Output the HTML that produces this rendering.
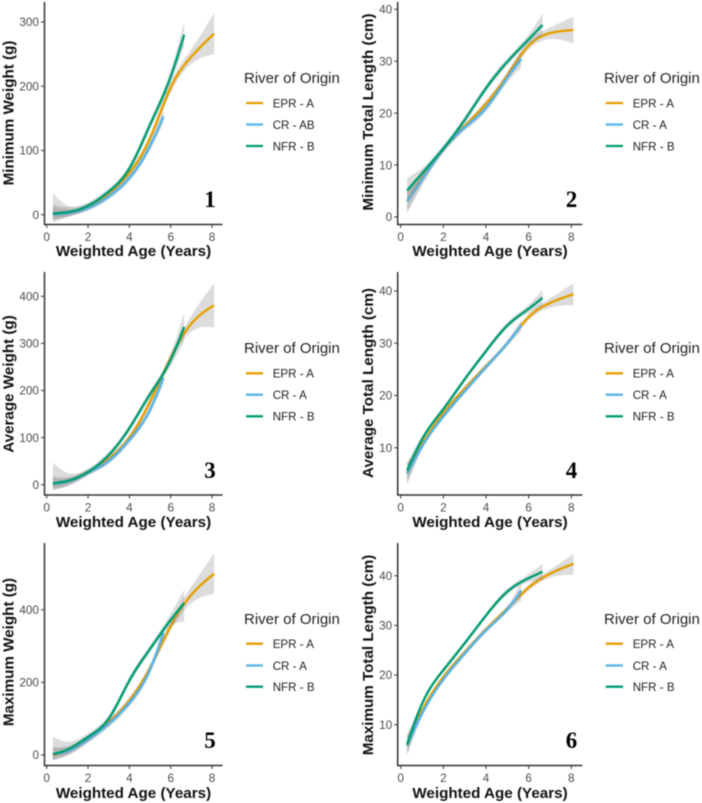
<!DOCTYPE html>
<html lang="en">
<head>
<meta charset="utf-8">
<title>Growth curves by river of origin</title>
<style>
html,body{margin:0;padding:0;background:#fff;}
svg{display:block;filter:blur(0.42px);font-family:"Liberation Sans",sans-serif;}
.axis-title{font-weight:bold;font-size:15.2px;fill:#111;text-anchor:middle;}
.tick-label{font-size:11.8px;fill:#4d4d4d;}
.legend-title{font-size:15px;fill:#222;}
.legend-label{font-size:11.6px;fill:#222;}
.panel-number{font-family:"Liberation Serif",serif;font-weight:bold;font-size:23px;fill:#000;text-anchor:middle;}
.key{stroke-width:2.3;fill:none;}
</style>
</head>
<body>
<svg id="chart" width="702" height="803" viewBox="0 0 702 803" xmlns="http://www.w3.org/2000/svg">
<rect width="702" height="803" fill="#fff"/>

<g id="panel-1"></g>
<g id="panel-2"></g>
<g id="panel-3"></g>
<g id="panel-4"></g>
<g id="panel-5"></g>
<g id="panel-6"></g>

<!-- axis titles -->
<text class="axis-title" x="133.5" y="256">Weighted Age (Years)</text>
<text class="axis-title" x="490" y="256">Weighted Age (Years)</text>
<text class="axis-title" x="133.5" y="527">Weighted Age (Years)</text>
<text class="axis-title" x="490" y="527">Weighted Age (Years)</text>
<text class="axis-title" x="133.5" y="798">Weighted Age (Years)</text>
<text class="axis-title" x="490" y="798">Weighted Age (Years)</text>

<text class="axis-title" transform="translate(13.5,113) rotate(-90)">Minimum Weight (g)</text>
<text class="axis-title" transform="translate(373,112) rotate(-90)">Minimum Total Length (cm)</text>
<text class="axis-title" transform="translate(13.5,384) rotate(-90)">Average Weight (g)</text>
<text class="axis-title" transform="translate(373,383) rotate(-90)">Average Total Length (cm)</text>
<text class="axis-title" transform="translate(13.5,652) rotate(-90)">Maximum Weight (g)</text>
<text class="axis-title" transform="translate(373,655) rotate(-90)">Maximum Total Length (cm)</text>

<!-- panel numbers -->
<text class="panel-number" x="210" y="207">1</text>
<text class="panel-number" x="571.5" y="207">2</text>
<text class="panel-number" x="210" y="478">3</text>
<text class="panel-number" x="571.5" y="478">4</text>
<text class="panel-number" x="210" y="748">5</text>
<text class="panel-number" x="571.5" y="748">6</text>

<!-- legends -->
<g>
<text class="legend-title" x="244" y="83">River of Origin</text>
<line class="key" x1="246" x2="263" y1="103" y2="103" stroke="#E69F00"/>
<text class="legend-label" x="272.7" y="107.3">EPR - A</text>
<line class="key" x1="246" x2="263" y1="124.5" y2="124.5" stroke="#56B4E9"/>
<text class="legend-label" x="272.7" y="128.8">CR - AB</text>
<line class="key" x1="246" x2="263" y1="146" y2="146" stroke="#009E73"/>
<text class="legend-label" x="272.7" y="150.3">NFR - B</text>
</g>
<g>
<text class="legend-title" x="604" y="83">River of Origin</text>
<line class="key" x1="605.7" x2="623" y1="103" y2="103" stroke="#E69F00"/>
<text class="legend-label" x="632.7" y="107.3">EPR - A</text>
<line class="key" x1="605.7" x2="623" y1="124.5" y2="124.5" stroke="#56B4E9"/>
<text class="legend-label" x="632.7" y="128.8">CR - A</text>
<line class="key" x1="605.7" x2="623" y1="146" y2="146" stroke="#009E73"/>
<text class="legend-label" x="632.7" y="150.3">NFR - B</text>
</g>
<g>
<text class="legend-title" x="244" y="353">River of Origin</text>
<line class="key" x1="246" x2="263" y1="373.3" y2="373.3" stroke="#E69F00"/>
<text class="legend-label" x="272.7" y="377.6">EPR - A</text>
<line class="key" x1="246" x2="263" y1="394.7" y2="394.7" stroke="#56B4E9"/>
<text class="legend-label" x="272.7" y="399">CR - A</text>
<line class="key" x1="246" x2="263" y1="416.3" y2="416.3" stroke="#009E73"/>
<text class="legend-label" x="272.7" y="420.6">NFR - B</text>
</g>
<g>
<text class="legend-title" x="604" y="353">River of Origin</text>
<line class="key" x1="605.7" x2="623" y1="373.3" y2="373.3" stroke="#E69F00"/>
<text class="legend-label" x="632.7" y="377.6">EPR - A</text>
<line class="key" x1="605.7" x2="623" y1="394.7" y2="394.7" stroke="#56B4E9"/>
<text class="legend-label" x="632.7" y="399">CR - A</text>
<line class="key" x1="605.7" x2="623" y1="416.3" y2="416.3" stroke="#009E73"/>
<text class="legend-label" x="632.7" y="420.6">NFR - B</text>
</g>
<g>
<text class="legend-title" x="244" y="624">River of Origin</text>
<line class="key" x1="246" x2="263" y1="643.7" y2="643.7" stroke="#E69F00"/>
<text class="legend-label" x="272.7" y="648">EPR - A</text>
<line class="key" x1="246" x2="263" y1="665.5" y2="665.5" stroke="#56B4E9"/>
<text class="legend-label" x="272.7" y="669.8">CR - A</text>
<line class="key" x1="246" x2="263" y1="686.7" y2="686.7" stroke="#009E73"/>
<text class="legend-label" x="272.7" y="691">NFR - B</text>
</g>
<g>
<text class="legend-title" x="604" y="624">River of Origin</text>
<line class="key" x1="605.7" x2="623" y1="643.7" y2="643.7" stroke="#E69F00"/>
<text class="legend-label" x="632.7" y="648">EPR - A</text>
<line class="key" x1="605.7" x2="623" y1="665.5" y2="665.5" stroke="#56B4E9"/>
<text class="legend-label" x="632.7" y="669.8">CR - A</text>
<line class="key" x1="605.7" x2="623" y1="686.7" y2="686.7" stroke="#009E73"/>
<text class="legend-label" x="632.7" y="691">NFR - B</text>
</g>
</svg>

<script>
// Shared categories: weighted age in years
const eprAge = [0.3, 1, 2, 3, 4, 5, 6, 7, 8.1];
const crAge = [0.3, 1, 2, 3, 4, 5, 5.65];
const nfrAge = [0.3, 1, 2, 3, 4, 5, 6, 6.65];
const xTickLabels = [0, 2, 4, 6, 8];

// Panel 1: minimum weight (g)
const p1Ticks = [0, 100, 200, 300];
const p1Epr = [2, 3, 13, 33, 65, 119, 198, 246, 282];
const p1EprLo = [-8, -3, 8, 28, 60, 113, 190, 235, 250];
const p1EprHi = [15, 12, 18, 38, 70, 125, 206, 258, 314];
const p1Cr = [0, 2, 10, 28, 57, 107, 153];
const p1CrLo = [-8, -3, 6, 24, 52, 100, 143];
const p1CrHi = [12, 8, 14, 32, 62, 114, 163];
const p1Nfr = [2, 4, 14, 36, 72, 140, 215, 280];
const p1NfrLo = [-12, -4, 9, 31, 66, 133, 205, 262];
const p1NfrHi = [33, 14, 19, 41, 78, 147, 225, 300];

// Panel 2: minimum total length (cm)
const p2Ticks = [0, 10, 20, 30, 40];
const p2Epr = [3, 7.5, 13, 17.5, 21.8, 27.3, 33, 35.4, 36];
const p2EprLo = [1, 6.4, 12.4, 16.9, 21.1, 26.6, 32.2, 34.3, 33.4];
const p2EprHi = [5, 8.6, 13.6, 18.1, 22.5, 28, 33.8, 36.5, 38.6];
const p2Cr = [3, 7.2, 13, 17.2, 21, 26.8, 30.4];
const p2CrLo = [0.8, 6, 12.4, 16.6, 20.3, 25.9, 28.8];
const p2CrHi = [5.2, 8.4, 13.6, 17.8, 21.7, 27.7, 32];
const p2Nfr = [5.1, 8.4, 13.2, 18.7, 24.8, 29.9, 34.2, 37];
const p2NfrLo = [2.7, 7.4, 12.6, 18, 24.1, 29.2, 33.2, 34.8];
const p2NfrHi = [7.5, 9.4, 13.8, 19.4, 25.5, 30.6, 35.2, 39.2];

// Panel 3: average weight (g)
const p3Ticks = [0, 100, 200, 300, 400];
const p3Epr = [2, 7, 27, 55, 100, 176, 270, 342, 381];
const p3EprLo = [-12, -2, 21, 49, 93, 168, 262, 325, 334];
const p3EprHi = [18, 16, 33, 61, 107, 184, 278, 359, 428];
const p3Cr = [2, 6, 25, 50, 95, 159, 227];
const p3CrLo = [-10, -4, 19, 44, 88, 151, 214];
const p3CrHi = [14, 14, 31, 56, 102, 167, 240];
const p3Nfr = [3, 8, 27, 63, 120, 192, 265, 335];
const p3NfrLo = [-8, 0, 21, 56, 113, 184, 252, 305];
const p3NfrHi = [47, 25, 34, 70, 127, 200, 278, 366];

// Panel 4: average total length (cm)
const p4Ticks = [10, 20, 30, 40];
const p4Epr = [5.1, 10.6, 16.6, 21.3, 25.6, 30, 35, 37.7, 39.4];
const p4EprLo = [3.2, 10, 16.1, 20.8, 25.1, 29.5, 34.4, 36.8, 37.3];
const p4EprHi = [7, 11.2, 17.1, 21.8, 26.1, 30.5, 35.6, 38.6, 41.5];
const p4Cr = [5, 10.2, 16, 20.8, 25.4, 30, 33.4];
const p4CrLo = [3, 9.6, 15.5, 20.3, 24.9, 29.5, 32.3];
const p4CrHi = [7, 10.8, 16.5, 21.3, 25.9, 30.5, 34.5];
const p4Nfr = [5.6, 11.6, 17.4, 23.1, 28.5, 33.4, 36.6, 38.7];
const p4NfrLo = [4, 11, 16.9, 22.6, 28, 32.8, 35.8, 37];
const p4NfrHi = [7.2, 12.2, 17.9, 23.6, 29, 34, 37.4, 40.2];

// Panel 5: maximum weight (g)
const p5Ticks = [0, 200, 400];
const p5Epr = [0, 12, 45, 90, 150, 240, 355, 441, 499];
const p5EprLo = [-14, 0, 36, 81, 140, 230, 342, 418, 444];
const p5EprHi = [20, 24, 54, 99, 160, 250, 368, 464, 554];
const p5Cr = [3, 10, 42, 85, 143, 235, 336];
const p5CrLo = [-14, -2, 33, 76, 133, 224, 318];
const p5CrHi = [22, 22, 51, 94, 153, 246, 354];
const p5Nfr = [2, 15, 50, 100, 205, 292, 372, 418];
const p5NfrLo = [-12, 2, 40, 90, 195, 282, 355, 368];
const p5NfrHi = [51, 36, 60, 110, 215, 302, 389, 455];

// Panel 6: maximum total length (cm)
const p6Ticks = [10, 20, 30, 40];
const p6Epr = [6, 12.8, 19.6, 24.6, 29.2, 33.4, 37.6, 40.4, 42.4];
const p6EprLo = [4, 12.2, 19.1, 24.1, 28.7, 32.9, 37, 39.6, 40.2];
const p6EprHi = [8, 13.4, 20.1, 25.1, 29.7, 33.9, 38.2, 41.2, 44.4];
const p6Cr = [5.8, 12.2, 19.1, 24.3, 29, 33.2, 37];
const p6CrLo = [4, 11.6, 18.6, 23.8, 28.5, 32.6, 35];
const p6CrHi = [7.6, 12.8, 19.6, 24.8, 29.5, 33.8, 38.9];
const p6Nfr = [6, 14.2, 21, 26.4, 32, 36.8, 39.5, 40.8];
const p6NfrLo = [4.4, 13.6, 20.5, 25.9, 31.5, 36.2, 38.7, 39.2];
const p6NfrHi = [7.8, 14.8, 21.5, 26.9, 32.5, 37.4, 40.3, 42.4];

const NS = 'http://www.w3.org/2000/svg';
const COLORS = { epr: '#E69F00', cr: '#56B4E9', nfr: '#009E73' };

// Each panel's axis calibration: two data anchors mapped to pixel rows.
const panels = [
  { id: 'panel-1', ticks: p1Ticks, left: 44.5, right: 222.5, top: 2, bottom: 224.5, x0: 46.7, xUnit: 20.67, yA: 0, pxA: 214.7, yB: 300, pxB: 22,
    epr: [p1Epr, p1EprLo, p1EprHi], cr: [p1Cr, p1CrLo, p1CrHi], nfr: [p1Nfr, p1NfrLo, p1NfrHi] },
  { id: 'panel-2', ticks: p2Ticks, left: 397.7, right: 582.3, top: 2, bottom: 224.5, x0: 400.7, xUnit: 21.33, yA: 0, pxA: 217, yB: 40, pxB: 9.3,
    epr: [p2Epr, p2EprLo, p2EprHi], cr: [p2Cr, p2CrLo, p2CrHi], nfr: [p2Nfr, p2NfrLo, p2NfrHi] },
  { id: 'panel-3', ticks: p3Ticks, left: 44.5, right: 222.5, top: 272, bottom: 495, x0: 46.7, xUnit: 20.67, yA: 0, pxA: 484.7, yB: 400, pxB: 296.3,
    epr: [p3Epr, p3EprLo, p3EprHi], cr: [p3Cr, p3CrLo, p3CrHi], nfr: [p3Nfr, p3NfrLo, p3NfrHi] },
  { id: 'panel-4', ticks: p4Ticks, left: 397.7, right: 582.3, top: 272, bottom: 495, x0: 400.7, xUnit: 21.33, yA: 10, pxA: 447.7, yB: 40, pxB: 291,
    epr: [p4Epr, p4EprLo, p4EprHi], cr: [p4Cr, p4CrLo, p4CrHi], nfr: [p4Nfr, p4NfrLo, p4NfrHi] },
  { id: 'panel-5', ticks: p5Ticks, left: 44.5, right: 222.5, top: 543, bottom: 765.5, x0: 46.7, xUnit: 20.67, yA: 0, pxA: 755, yB: 400, pxB: 609.7,
    epr: [p5Epr, p5EprLo, p5EprHi], cr: [p5Cr, p5CrLo, p5CrHi], nfr: [p5Nfr, p5NfrLo, p5NfrHi] },
  { id: 'panel-6', ticks: p6Ticks, left: 397.7, right: 582.3, top: 543, bottom: 765.5, x0: 400.7, xUnit: 21.33, yA: 10, pxA: 724.7, yB: 40, pxB: 575.7,
    epr: [p6Epr, p6EprLo, p6EprHi], cr: [p6Cr, p6CrLo, p6CrHi], nfr: [p6Nfr, p6NfrLo, p6NfrHi] }
];

function make(tag, props, parent) {
  const el = document.createElementNS(NS, tag);
  for (const k in props) el.setAttribute(k, props[k]);
  parent.appendChild(el);
  return el;
}

// Natural cubic spline through the read values, sampled along x.
function smoothSamples(xs, ys) {
  const n = xs.length;
  const h = [], a = new Array(n).fill(0), l = new Array(n).fill(1), mu = new Array(n).fill(0), z = new Array(n).fill(0), c = new Array(n).fill(0);
  for (let i = 0; i < n - 1; i++) h[i] = xs[i + 1] - xs[i];
  for (let i = 1; i < n - 1; i++) {
    a[i] = 3 * (ys[i + 1] - ys[i]) / h[i] - 3 * (ys[i] - ys[i - 1]) / h[i - 1];
    l[i] = 2 * (xs[i + 1] - xs[i - 1]) - h[i - 1] * mu[i - 1];
    mu[i] = h[i] / l[i];
    z[i] = (a[i] - h[i - 1] * z[i - 1]) / l[i];
  }
  for (let j = n - 2; j >= 0; j--) c[j] = z[j] - mu[j] * c[j + 1];
  const out = [];
  for (let i = 0; i < n - 1; i++) {
    const b = (ys[i + 1] - ys[i]) / h[i] - h[i] * (c[i + 1] + 2 * c[i]) / 3;
    const d = (c[i + 1] - c[i]) / (3 * h[i]);
    const steps = Math.max(2, Math.ceil(h[i] / 0.1));
    for (let s = 0; s < steps; s++) {
      const t = h[i] * s / steps;
      out.push([xs[i] + t, ys[i] + b * t + c[i] * t * t + d * t * t * t]);
    }
  }
  out.push([xs[n - 1], ys[n - 1]]);
  return out;
}

function drawPanel(cfg) {
  const g = document.getElementById(cfg.id);
  const xScale = function (v) { return cfg.x0 + v * cfg.xUnit; };
  const yScale = function (v) { return cfg.pxA + (v - cfg.yA) * (cfg.pxB - cfg.pxA) / (cfg.yB - cfg.yA); };
  const toPath = function (samples) {
    return samples.map(function (p) { return xScale(p[0]).toFixed(2) + ' ' + yScale(p[1]).toFixed(2); }).join(' L');
  };

  const groups = [['epr', eprAge], ['cr', crAge], ['nfr', nfrAge]];
  groups.forEach(function (item) {
    const key = item[0], ages = item[1], vals = cfg[key][0], lo = cfg[key][1], hi = cfg[key][2];
    const ribbon = make('path', {
      d: 'M' + toPath(smoothSamples(ages, hi)) + ' L' + toPath(smoothSamples(ages, lo).reverse()) + ' Z',
      fill: '#8c8c8c', 'fill-opacity': '0.3', stroke: 'none'
    }, g);
    
    

    const line = make('path', {
      d: 'M' + toPath(smoothSamples(ages, vals)),
      fill: 'none', stroke: COLORS[key], 'stroke-width': '2.4'
    }, g);
    
    
  });

  const ySpine = make('line', { x1: cfg.left, x2: cfg.left, y1: cfg.top, y2: cfg.bottom + 0.7, stroke: '#333', 'stroke-width': '1.5' }, g);
  
  
  const xSpine = make('line', { x1: cfg.left, x2: cfg.right, y1: cfg.bottom, y2: cfg.bottom, stroke: '#333', 'stroke-width': '1.5' }, g);
  
  

  xTickLabels.forEach(function (t) {
    const tick = make('line', { x1: xScale(t), x2: xScale(t), y1: cfg.bottom, y2: cfg.bottom + 3.5, stroke: '#333', 'stroke-width': '1' }, g);
    
    
    const label = make('text', { class: 'tick-label', x: xScale(t), y: cfg.bottom + 16.5, 'text-anchor': 'middle' }, g);
    
    
    label.textContent = t;
  });
  cfg.ticks.forEach(function (t) {
    const tick = make('line', { x1: cfg.left - 3.5, x2: cfg.left, y1: yScale(t), y2: yScale(t), stroke: '#333', 'stroke-width': '1' }, g);
    
    
    const label = make('text', { class: 'tick-label', x: cfg.left - 5.5, y: yScale(t) + 4.2, 'text-anchor': 'end' }, g);
    
    
    label.textContent = t;
  });
}

panels.forEach(drawPanel);
</script>
</body>
</html>
